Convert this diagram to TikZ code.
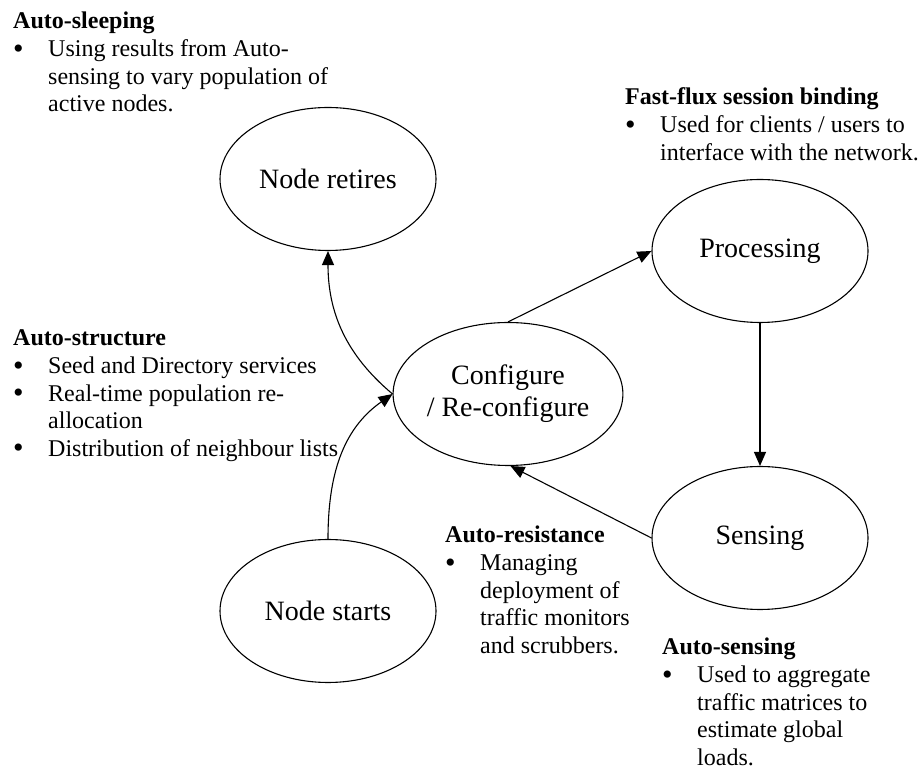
\documentclass[tikz,border=0pt]{standalone}
\usepackage{fontspec}
\setmainfont{Liberation Serif}
\usetikzlibrary{shapes.geometric,arrows.meta}
% bullet line and its continuation, hanging indent of 35pt
\newcommand{\bigdot}{\smash{\raisebox{-1.5pt}{\fontsize{30}{30}\selectfont\textbullet}}}
\newcommand{\bitem}[1]{\makebox[35pt][l]{\bigdot}#1}
\newcommand{\bcont}[1]{\hspace*{35pt}#1}
\begin{document}
\begin{tikzpicture}[x=1pt,y=1pt,
  state/.style={ellipse,draw,line width=1.1pt,minimum width=216pt,minimum height=143pt,
    inner sep=0pt,font=\fontsize{28}{32}\selectfont,align=center},
  flow/.style={line width=1.1pt,-{Triangle[length=14pt,width=12pt]}},
  note/.style={anchor=base west,inner sep=0pt,font=\fontsize{24}{27.6}\selectfont}]
\useasboundingbox (0,0) rectangle (923,776);

% life-cycle states
\node[state] (retire) at (328,597) {Node retires};
\node[state] (start)  at (328,165) {Node starts};
\node[state] (conf)   at (508,382) {Configure\\/ Re-configure};
\node[state] (proc)   at (760,525) {Processing};
\node[state] (sens)   at (760,238) {Sensing};

% transitions
\draw[flow] (start.north) to[out=90,in=215] (conf.west);
\draw[flow] (conf.west) to[out=140,in=-90] (retire.south);
\draw[flow] (conf.north) -- (proc.west);
\draw[flow] (proc.south) -- (sens.north);
\draw[flow] (sens.west) -- (conf.-88);

% annotations
\node[note] (sleepnote) at (13,747) {\parbox[t]{400pt}{%
  \textbf{Auto-sleeping}\\
  \bitem{Using results from Auto-}\\
  \bcont{sensing to vary population of}\\
  \bcont{active nodes.}}};

\node[note] (fluxnote) at (625,671) {\parbox[t]{400pt}{%
  \textbf{Fast-flux session binding}\\
  \bitem{Used for clients / users to}\\
  \bcont{interface with the network.}}};

\node[note] (structnote) at (13,430) {\parbox[t]{400pt}{%
  \textbf{Auto-structure}\\
  \bitem{Seed and Directory services}\\
  \bitem{Real-time population re-}\\
  \bcont{allocation}\\
  \bitem{Distribution of neighbour lists}}};

\node[note] (resistnote) at (445,233) {\parbox[t]{300pt}{%
  \textbf{Auto-resistance}\\
  \bitem{Managing}\\
  \bcont{deployment of}\\
  \bcont{traffic monitors}\\
  \bcont{and scrubbers.}}};

\node[note] (sensenote) at (662,121) {\parbox[t]{300pt}{%
  \textbf{Auto-sensing}\\
  \bitem{Used to aggregate}\\
  \bcont{traffic matrices to}\\
  \bcont{estimate global}\\
  \bcont{loads.}}};
\end{tikzpicture}
\end{document}
